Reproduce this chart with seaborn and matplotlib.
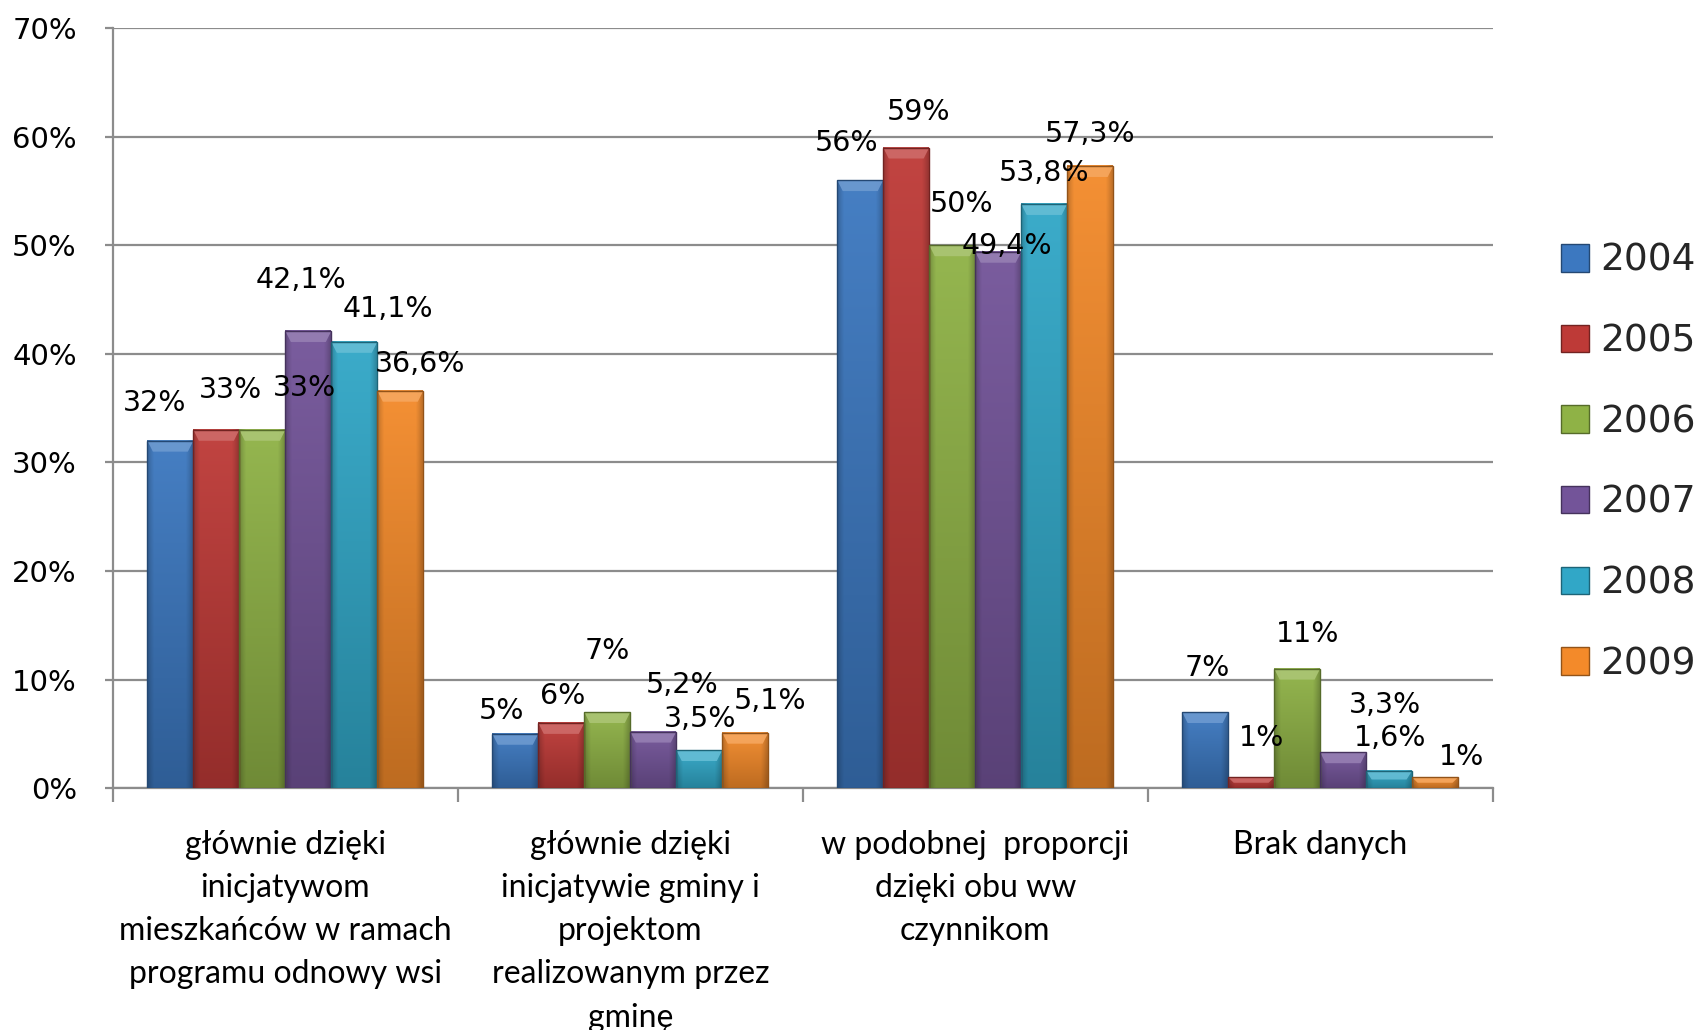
import numpy as np
import pandas as pd
import matplotlib
matplotlib.use("Agg")
import matplotlib.pyplot as plt
import seaborn as sns
from matplotlib.patches import Patch, Polygon

# ---------------- data ----------------
categories = [
    "głównie dzięki\ninicjatywom\nmieszkańców w ramach\nprogramu odnowy wsi",
    "głównie dzięki\ninicjatywie gminy i\nprojektom\nrealizowanym przez\ngminę",
    "w podobnej  proporcji\ndzięki obu ww\nczynnikom",
    "Brak danych",
]
years = ["2004", "2005", "2006", "2007", "2008", "2009"]
v2004 = [32, 5, 56, 7]
v2005 = [33, 6, 59, 1]
v2006 = [33, 7, 50, 11]
v2007 = [42.1, 5.2, 49.4, 3.3]
v2008 = [41.1, 3.5, 53.8, 1.6]
v2009 = [36.6, 5.1, 57.3, 1]
series = [v2004, v2005, v2006, v2007, v2008, v2009]
yticks = [0, 10, 20, 30, 40, 50, 60, 70]

# label placement (offset in bar widths / percentage points above bar top)
label_dx = [
    [-0.35, -0.30, -0.29, 0.04],
    [0.31, 0.04, 0.27, 0.22],
    [0.91, 0.0, 0.21, 0.23],
    [-0.15, 0.62, 0.19, 0.91],
    [0.74, 0.02, 0.0, 0.03],
    [0.42, 0.53, 0.0, 0.58],
]
label_dy = [
    [3.5, 2.1, 3.4, 4.1],
    [3.7, 2.5, 3.3, 3.6],
    [3.9, 5.6, 3.8, 3.2],
    [4.7, 4.3, 0.5, 4.4],
    [3.0, 2.9, 2.9, 3.0],
    [2.5, 2.9, 3.0, 1.9],
]

colors = ["#3C78C0", "#BE3A37", "#8FB246", "#735499", "#31A7C7", "#F38A2A"]

rows = []
for y, vals in zip(years, series):
    for c, v in zip(categories, vals):
        rows.append({"category": c, "year": y, "value": v})
df = pd.DataFrame(rows)

# ---------------- figure ----------------
sns.set_theme(style="white")
plt.rcParams["font.family"] = ["DejaVu Sans"]

fig = plt.figure(figsize=(17, 10.3), dpi=100)
ax = fig.add_axes([0.0664, 0.2348, 0.8116, 0.7378])

sns.barplot(data=df, x="category", y="value", hue="year", order=categories,
            hue_order=years, palette=colors, width=0.8, ax=ax, legend=False,
            saturation=1, edgecolor="none", linewidth=0, zorder=3)

ax.set_ylim(0, 70)
ax.set_xlim(-0.5, 3.5)
ax.set_xlabel("")
ax.set_ylabel("")

grid_c = "#8C8C8C"
ax.set_yticks(yticks)
ax.set_yticklabels([f"{t}%" for t in yticks], fontsize=21, color="#000000")
ax.yaxis.grid(True, color=grid_c, linewidth=1.6, zorder=0)
ax.set_axisbelow(True)
for s in ["top", "right"]:
    ax.spines[s].set_visible(False)
for s in ["left", "bottom"]:
    ax.spines[s].set_color(grid_c)
    ax.spines[s].set_linewidth(1.6)

ax.tick_params(axis="y", which="major", length=6, width=1.6, color=grid_c,
               direction="out", pad=20, left=True)
ax.tick_params(axis="x", which="major", length=0, pad=30)
ax.set_xticks([-0.5, 0.5, 1.5, 2.5, 3.5], minor=True)
ax.tick_params(axis="x", which="minor", length=10, width=1.6, color=grid_c,
               direction="out", bottom=True)
for lab in ax.get_xticklabels():
    lab.set_fontfamily("Lato")
    lab.set_fontsize(23)
    lab.set_linespacing(1.55)
    lab.set_color("#000000")

def lighten(c, f):
    c = np.array(matplotlib.colors.to_rgb(c))
    return tuple(c + (1 - c) * f)

def darken(c, f):
    c = np.array(matplotlib.colors.to_rgb(c))
    return tuple(c * f)

# gradient / bevel styling of each bar
bars = [p for p in ax.patches if p.get_height() > 0]
bw = 0.8 / len(years)
bevel = 1.0
for p in bars:
    x, w, h = p.get_x(), p.get_width(), p.get_height()
    base = p.get_facecolor()[:3]
    n = 64
    t = np.linspace(0, 1, n)[:, None]  # 0 top, 1 bottom
    top_c = np.array(lighten(base, 0.05))
    bot_c = np.array(darken(base, 0.78))
    col = top_c[None, :] * (1 - t) + bot_c[None, :] * t
    img = np.repeat(col[:, None, :], 16, axis=1)
    edge = np.ones(16)
    edge[0] = edge[-1] = 0.82
    edge[1] = edge[-2] = 0.92
    img = img * edge[None, :, None]
    ax.imshow(img, extent=[x, x + w, 0, h], aspect="auto", zorder=3.1,
              interpolation="bilinear")
    p.set_facecolor("none")
    p.set_edgecolor(darken(base, 0.6))
    p.set_linewidth(1.0)
    p.set_zorder(3.3)
    bh = min(bevel, h * 0.5)
    inset = w * 0.12
    poly = Polygon([[x, h], [x + w, h], [x + w - inset, h - bh], [x + inset, h - bh]],
                   closed=True, facecolor=lighten(base, 0.25), edgecolor="none",
                   zorder=3.2, alpha=0.9)
    ax.add_patch(poly)
    # value label
    pos = x + w / 2
    ci = int(round(pos))
    yi = int(round((pos - ci) / bw + (len(years) - 1) / 2))
    v = series[yi][ci]
    txt = (f"{v:g}".replace(".", ",")) + "%"
    ax.text(pos + label_dx[yi][ci] * bw, v + label_dy[yi][ci], txt,
            ha="center", va="center", fontsize=20.5, color="#000000", zorder=5)

ax.set_xlim(-0.5, 3.5)
ax.set_ylim(0, 70)

handles = [Patch(facecolor=c, edgecolor=darken(c, 0.6), linewidth=1.0) for c in colors]
fig.legend(handles, years, loc="center left", bbox_to_anchor=(0.918, 0.551),
           frameon=False, fontsize=27, handlelength=0.75, handleheight=0.75,
           handletextpad=0.3, labelspacing=1.19, borderpad=0, borderaxespad=0)

fig.savefig("out.png", dpi=100)
